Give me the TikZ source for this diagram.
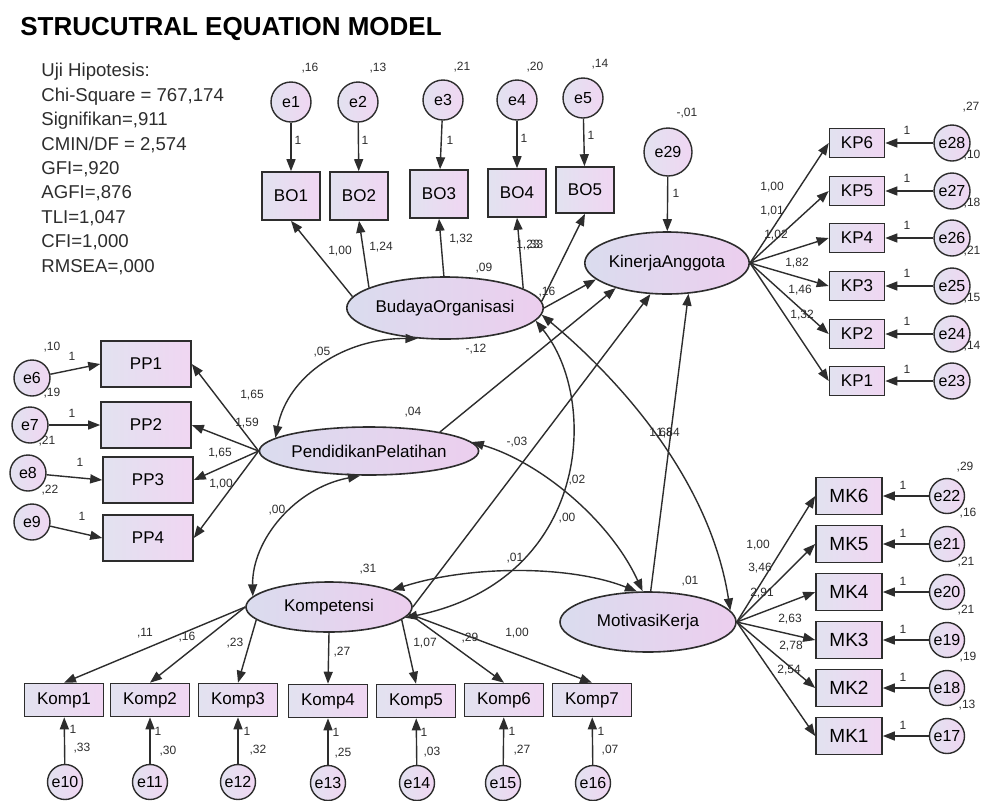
\documentclass[tikz,border=0pt]{standalone}
\usepackage{fontspec}
\setmainfont{Liberation Sans}
\usetikzlibrary{arrows.meta,shapes.geometric}
\definecolor{boxl}{RGB}{226,226,240}
\definecolor{boxr}{RGB}{240,214,242}
\definecolor{latl}{RGB}{218,220,238}
\definecolor{latr}{RGB}{236,206,238}
\definecolor{ink}{RGB}{45,45,45}

\begin{document}
\begin{tikzpicture}[x=0.5pt,y=-0.5pt,
  ind/.style={draw=ink,line width=0.8pt,left color=boxl,right color=boxr,inner sep=0pt,font=\fontsize{8.5}{10}\selectfont},
  err/.style={circle,draw=ink,line width=0.7pt,left color=boxl,right color=boxr,inner sep=0pt,minimum size=18pt,font=\fontsize{8}{9}\selectfont},
  lat/.style={ellipse,draw=ink,line width=0.8pt,left color=latl,right color=latr,inner sep=0pt,font=\fontsize{8.5}{10}\selectfont},
  num/.style={inner sep=0pt,text=ink,font=\fontsize{6}{7}\selectfont},
  arr/.style={draw=ink,line width=0.7pt,-{Triangle[length=6pt,width=4.5pt]}},
  cov/.style={draw=ink,line width=0.7pt,{Triangle[length=6pt,width=4.5pt]}-{Triangle[length=6pt,width=4.5pt]}}]
\fill[white] (0,0) rectangle (981,800);
\useasboundingbox (0,0) rectangle (981,800);

\node[anchor=base west,inner sep=0pt,font=\fontsize{13}{15}\selectfont\bfseries] (title) at (20,35) {STRUCUTRAL EQUATION MODEL};
\node[anchor=north west,inner sep=0pt,align=left,text=ink,font=\fontsize{9.3}{12.2}\selectfont] (fit) at (41,63) {Uji Hipotesis:\\Chi-Square = 767,174\\Signifikan=,911\\CMIN/DF = 2,574\\GFI=,920\\AGFI=,876\\TLI=1,047\\CFI=1,000\\RMSEA=,000};

\node[err,minimum size=20pt] (e1) at (291,102) {e1};
\node[err,minimum size=20pt] (e2) at (358,102) {e2};
\node[err,minimum size=20pt] (e3) at (443,100) {e3};
\node[err,minimum size=20pt] (e4) at (517,100) {e4};
\node[err,minimum size=20pt] (e5) at (583,98) {e5};
\node[ind,minimum width=29pt,minimum height=24pt] (bo1) at (291,196) {BO1};
\node[ind,minimum width=29pt,minimum height=24pt] (bo2) at (359,196) {BO2};
\node[ind,minimum width=29pt,minimum height=24pt] (bo3) at (439,194) {BO3};
\node[ind,minimum width=29pt,minimum height=24pt] (bo4) at (517,193) {BO4};
\node[ind,minimum width=29pt,minimum height=23pt] (bo5) at (585,190) {BO5};

\node[lat,minimum width=88pt,minimum height=31pt] (BO) at (445,308) {BudayaOrganisasi};
\node[lat,minimum width=80pt,minimum height=31pt] (KA) at (667,263) {KinerjaAnggota};
\node[err,minimum size=24pt] (e29) at (668,152) {e29};
\node[lat,minimum width=94pt,minimum height=24pt] (PP) at (369,451) {PendidikanPelatihan};
\node[lat,minimum width=83pt,minimum height=25pt] (K) at (329,607) {Kompetensi};
\node[lat,minimum width=88pt,minimum height=30pt] (MK) at (648,622) {MotivasiKerja};

\node[ind,minimum width=27.5pt,minimum height=14.5pt] (kp6) at (857,143) {KP6};
\node[ind,minimum width=27.5pt,minimum height=14.5pt] (kp5) at (857,191) {KP5};
\node[ind,minimum width=27.5pt,minimum height=14.5pt] (kp4) at (857,238) {KP4};
\node[ind,minimum width=27.5pt,minimum height=14.5pt] (kp3) at (857,286) {KP3};
\node[ind,minimum width=27.5pt,minimum height=14.5pt] (kp2) at (857,334) {KP2};
\node[ind,minimum width=27.5pt,minimum height=14.5pt] (kp1) at (857,381) {KP1};
\node[err] (e28) at (952,143) {e28};
\node[err] (e27) at (952,191) {e27};
\node[err] (e26) at (952,238) {e26};
\node[err] (e25) at (952,286) {e25};
\node[err] (e24) at (952,334) {e24};
\node[err] (e23) at (952,381) {e23};

\node[ind,minimum width=45pt,minimum height=23pt] (pp1) at (146,364) {PP1};
\node[ind,minimum width=45pt,minimum height=23pt] (pp2) at (146,425) {PP2};
\node[ind,minimum width=45pt,minimum height=23pt] (pp3) at (148,480) {PP3};
\node[ind,minimum width=45pt,minimum height=23pt] (pp4) at (148,538) {PP4};
\node[err] (e6) at (32,378) {e6};
\node[err] (e7) at (30,425) {e7};
\node[err] (e8) at (28,473) {e8};
\node[err] (e9) at (32,522) {e9};

\node[ind,minimum width=39.5pt,minimum height=16.5pt] (komp1) at (64,700) {Komp1};
\node[ind,minimum width=39.5pt,minimum height=16.5pt] (komp2) at (150,700) {Komp2};
\node[ind,minimum width=39.5pt,minimum height=16.5pt] (komp3) at (238,700) {Komp3};
\node[ind,minimum width=39.5pt,minimum height=16.5pt] (komp4) at (328,701) {Komp4};
\node[ind,minimum width=39.5pt,minimum height=16.5pt] (komp5) at (416,701) {Komp5};
\node[ind,minimum width=39.5pt,minimum height=16.5pt] (komp6) at (504,700) {Komp6};
\node[ind,minimum width=39.5pt,minimum height=16.5pt] (komp7) at (592,700) {Komp7};
\node[err,minimum size=17.5pt] (e10) at (65,782) {e10};
\node[err,minimum size=17.5pt] (e11) at (150,782) {e11};
\node[err,minimum size=17.5pt] (e12) at (238,782) {e12};
\node[err,minimum size=17.5pt] (e13) at (328,783) {e13};
\node[err,minimum size=17.5pt] (e14) at (417,783) {e14};
\node[err,minimum size=17.5pt] (e15) at (503,783) {e15};
\node[err,minimum size=17.5pt] (e16) at (593,783) {e16};

\node[ind,minimum width=33pt,minimum height=18.5pt,font=\fontsize{9.5}{11}\selectfont] (mk6) at (849,496) {MK6};
\node[ind,minimum width=33pt,minimum height=18.5pt,font=\fontsize{9.5}{11}\selectfont] (mk5) at (849,544) {MK5};
\node[ind,minimum width=33pt,minimum height=18.5pt,font=\fontsize{9.5}{11}\selectfont] (mk4) at (849,592) {MK4};
\node[ind,minimum width=33pt,minimum height=18.5pt,font=\fontsize{9.5}{11}\selectfont] (mk3) at (849,640) {MK3};
\node[ind,minimum width=33pt,minimum height=18.5pt,font=\fontsize{9.5}{11}\selectfont] (mk2) at (849,688) {MK2};
\node[ind,minimum width=33pt,minimum height=18.5pt,font=\fontsize{9.5}{11}\selectfont] (mk1) at (849,736) {MK1};
\node[err,minimum size=17.5pt] (e22) at (947,496) {e22};
\node[err,minimum size=17.5pt] (e21) at (947,544) {e21};
\node[err,minimum size=17.5pt] (e20) at (947,592) {e20};
\node[err,minimum size=17.5pt] (e19) at (947,640) {e19};
\node[err,minimum size=17.5pt] (e18) at (947,688) {e18};
\node[err,minimum size=17.5pt] (e17) at (947,736) {e17};

\draw[arr] (e1) -- (bo1); \draw[arr] (e2) -- (bo2); \draw[arr] (e3) -- (bo3);
\draw[arr] (e4) -- (bo4); \draw[arr] (e5) -- (bo5);
\draw[arr] (BO.173) -- (bo1.south);
\draw[arr] (BO.165) -- (bo2.south);
\draw[arr] (BO.92) -- (bo3.south);
\draw[arr] (BO.14) -- (bo4.south);
\draw[arr] (BO.4) -- (bo5.south);

\draw[arr] (e29) -- (KA);
\draw[arr] (KA.east) -- (kp6.west); \draw[arr] (KA.east) -- (kp5.west);
\draw[arr] (KA.east) -- (kp4.west); \draw[arr] (KA.east) -- (kp3.west);
\draw[arr] (KA.east) -- (kp2.west); \draw[arr] (KA.east) -- (kp1.west);
\draw[arr] (e28) -- (kp6); \draw[arr] (e27) -- (kp5); \draw[arr] (e26) -- (kp4);
\draw[arr] (e25) -- (kp3); \draw[arr] (e24) -- (kp2); \draw[arr] (e23) -- (kp1);

\draw[arr] (e6) -- (pp1.west); \draw[arr] (e7) -- (pp2.west);
\draw[arr] (e8) -- (pp3.west); \draw[arr] (e9) -- (pp4.west);
\draw[arr] (PP.west) -- (pp1.east); \draw[arr] (PP.west) -- (pp2.east);
\draw[arr] (PP.west) -- (pp3.east); \draw[arr] (PP.west) -- (pp4.east);

\draw[arr] (K.west) -- (komp1.north);
\draw[arr] (K.west) -- (komp2.north);
\draw[arr] (K.190) -- (komp3.north);
\draw[arr] (K.south) -- (komp4.north);
\draw[arr] (K.350) -- (komp5.north);
\draw[arr] (K.355) -- (komp6.north);
\draw[arr] (K.355) -- (komp7.north);
\draw[arr] (e10) -- (komp1); \draw[arr] (e11) -- (komp2); \draw[arr] (e12) -- (komp3);
\draw[arr] (e13) -- (komp4); \draw[arr] (e14) -- (komp5); \draw[arr] (e15) -- (komp6);
\draw[arr] (e16) -- (komp7);

\draw[arr] (MK.east) -- (mk6.west); \draw[arr] (MK.east) -- (mk5.west);
\draw[arr] (MK.east) -- (mk4.west); \draw[arr] (MK.east) -- (mk3.west);
\draw[arr] (MK.east) -- (mk2.west); \draw[arr] (MK.east) -- (mk1.west);
\draw[arr] (e22) -- (mk6); \draw[arr] (e21) -- (mk5); \draw[arr] (e20) -- (mk4);
\draw[arr] (e19) -- (mk3); \draw[arr] (e18) -- (mk2); \draw[arr] (e17) -- (mk1);

\draw[arr] (BO.east) -- (KA.193);
\draw[arr] (PP.15) -- (KA.206);
\draw[arr] (K.east) -- (KA.242);
\draw[arr] (MK.85) -- (KA.305);

\draw[cov] (PP.172) .. controls (288,375) and (345,338) .. (BO.228);
\draw[cov] (PP.250) .. controls (295,488) and (252,540) .. (K.172);
\draw[cov] (BO.352) .. controls (600,400) and (590,580) .. (K.352);
\draw[cov] (PP.5) .. controls (540,462) and (610,520) .. (MK.100);
\draw[cov] (K.15) .. controls (470,565) and (570,565) .. (MK.110);
\draw[cov] (BO.356) .. controls (620,380) and (710,480) .. (MK.8);

\node[num] (v1) at (310,68) {,16}; \node[num] (v2) at (378,68) {,13};
\node[num] (v3) at (462,67) {,21}; \node[num] (v4) at (535,67) {,20};
\node[num] (v5) at (600,64) {,14};
\node[num] (o1) at (298,140) {1}; \node[num] (o2) at (365,140) {1};
\node[num] (o3) at (450,140) {1}; \node[num] (o4) at (524,138) {1};
\node[num] (o5) at (591,135) {1};
\node[num] (w1) at (340,251) {1,00}; \node[num] (w2) at (381,247) {1,24};
\node[num] (w3) at (461,239) {1,32}; \node[num] (w4) at (528,245) {1,23};
\node[num] (w5) at (535,245) {,33};
\node[num] (vbo) at (484,268) {,09}; \node[num] (pbo) at (547,292) {,16};

\node[num] (v29) at (687,113) {-,01}; \node[num] (o29) at (676,193) {1};
\node[num] (w6) at (772,187) {1,00}; \node[num] (w7) at (772,211) {1,01};
\node[num] (w8) at (776,235) {1,02}; \node[num] (w9) at (797,263) {1,82};
\node[num] (w10) at (800,290) {1,46}; \node[num] (w11) at (802,315) {1,32};
\node[num] (o28) at (907,130) {1}; \node[num] (o27) at (907,178) {1};
\node[num] (o26) at (907,225) {1}; \node[num] (o25) at (907,273) {1};
\node[num] (o24) at (907,321) {1}; \node[num] (o23) at (907,369) {1};
\node[num] (v28) at (971,107) {,27}; \node[num] (v27) at (972,155) {,10};
\node[num] (v26) at (972,203) {,18}; \node[num] (v25) at (972,251) {,21};
\node[num] (v24) at (972,298) {,15}; \node[num] (v23) at (972,346) {,14};

\node[num] (v6) at (52,347) {,10}; \node[num] (v7) at (52,393) {,19};
\node[num] (v8) at (47,441) {,21}; \node[num] (v9) at (50,490) {,22};
\node[num] (o6) at (72,356) {1}; \node[num] (o7) at (72,413) {1};
\node[num] (o8) at (80,462) {1}; \node[num] (o9) at (82,516) {1};
\node[num] (w12) at (252,395) {1,65}; \node[num] (w13) at (247,423) {1,59};
\node[num] (w14) at (220,453) {1,65}; \node[num] (w15) at (221,484) {1,00};
\node[num] (c1) at (322,352) {,05}; \node[num] (vpp) at (413,412) {,04};
\node[num] (c2) at (277,510) {,00}; \node[num] (ppp) at (476,349) {-,12};
\node[num] (pk) at (517,442) {-,03}; \node[num] (c3) at (577,480) {,02};
\node[num] (c4) at (567,518) {,00}; \node[num] (c5) at (515,558) {,01};
\node[num] (c6) at (661,433) {1,68}; \node[num] (pmk) at (668,433) {1,84};
\node[num] (vk) at (368,569) {,31}; \node[num] (vmk) at (690,581) {,01};

\node[num] (w16) at (145,633) {,11}; \node[num] (w17) at (187,637) {,16};
\node[num] (w18) at (235,643) {,23}; \node[num] (w19) at (342,652) {,27};
\node[num] (w20) at (425,643) {1,07}; \node[num] (w21) at (470,638) {,29};
\node[num] (w22) at (517,633) {1,00};
\node[num] (o10) at (73,729) {1}; \node[num] (o11) at (158,731) {1};
\node[num] (o12) at (247,731) {1}; \node[num] (o13) at (336,732) {1};
\node[num] (o14) at (424,732) {1}; \node[num] (o15) at (512,731) {1};
\node[num] (o16) at (601,731) {1};
\node[num] (v10) at (82,748) {,33}; \node[num] (v11) at (168,751) {,30};
\node[num] (v12) at (258,750) {,32}; \node[num] (v13) at (343,753) {,25};
\node[num] (v14) at (432,752) {,03}; \node[num] (v15) at (522,750) {,27};
\node[num] (v16) at (610,750) {,07};

\node[num] (w23) at (758,545) {1,00}; \node[num] (w24) at (760,568) {3,46};
\node[num] (w25) at (762,593) {2,91}; \node[num] (w26) at (790,619) {2,63};
\node[num] (w27) at (791,646) {2,78}; \node[num] (w28) at (789,670) {2,54};
\node[num] (o22) at (903,485) {1}; \node[num] (o21) at (903,533) {1};
\node[num] (o20) at (903,581) {1}; \node[num] (o19) at (903,629) {1};
\node[num] (o18) at (903,677) {1}; \node[num] (o17) at (903,725) {1};
\node[num] (v22) at (965,467) {,29}; \node[num] (v21) at (968,513) {,16};
\node[num] (v20) at (966,562) {,21}; \node[num] (v19) at (966,610) {,21};
\node[num] (v18) at (968,657) {,19}; \node[num] (v17) at (967,705) {,13};
\end{tikzpicture}
\end{document}
